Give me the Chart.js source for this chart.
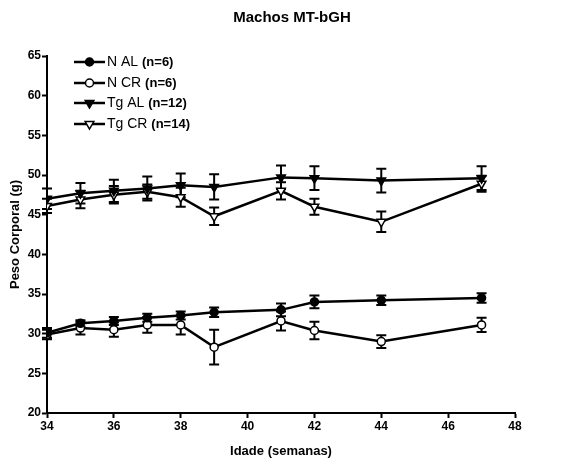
<!DOCTYPE html>
<html>
<head>
<meta charset="utf-8">
<script src="https://cdn.jsdelivr.net/npm/chart.js@4"></script>
<style>
  html, body { margin: 0; padding: 0; background: #fff; }
  #wrap { width: 585px; height: 463px; }
</style>
</head>
<body>
<div id="wrap"><canvas id="chart"></canvas></div>
<script>
// weeks of age
const weeks = [34, 35, 36, 37, 38, 39, 41, 42, 44, 47];

// body weight (g), mean and SEM
const nAL = [30.1, 31.3, 31.6, 32.0, 32.3, 32.7, 33.0, 34.0, 34.2, 34.5];
const nALErr = [0.6, 0.4, 0.5, 0.5, 0.5, 0.6, 0.8, 0.8, 0.6, 0.6];
const nCR = [29.9, 30.7, 30.5, 31.1, 31.1, 28.3, 31.6, 30.4, 29.0, 31.1];
const nCRErr = [0.6, 0.8, 0.9, 1.0, 1.2, 2.2, 1.2, 1.1, 0.8, 0.9];
const tgAL = [47.0, 47.7, 48.0, 48.3, 48.7, 48.5, 49.7, 49.6, 49.3, 49.6];
const tgALErr = [1.3, 1.3, 1.4, 1.5, 1.5, 1.6, 1.5, 1.5, 1.5, 1.5];
const tgCR = [46.1, 46.9, 47.5, 47.9, 47.2, 44.8, 48.0, 46.0, 44.1, 48.9];
const tgCRErr = [0.9, 1.1, 1.1, 0.9, 1.2, 1.1, 1.1, 1.0, 1.3, 1.0];

const seriesNames = ['N AL', 'N CR', 'Tg AL', 'Tg CR'];
const seriesN = ['(n=6)', '(n=6)', '(n=12)', '(n=14)'];

const xTicks = [34, 36, 38, 40, 42, 44, 46, 48];
const yTicks = [20, 25, 30, 35, 40, 45, 50, 55, 60, 65];

const chartTitle = 'Machos MT-bGH';
const FONT = '"Liberation Sans", Arial, sans-serif';

function toPoints(vals) {
  return weeks.map((w, i) => ({ x: w, y: vals[i] }));
}

function makeSet(label, vals, errs, style, fill, rot) {
  return {
    label: label,
    data: toPoints(vals),
    errors: errs,
    borderColor: '#000',
    borderWidth: 2.5,
    pointStyle: style,
    pointRotation: rot,
    pointRadius: style === 'triangle' ? 5 : 4,
    pointBackgroundColor: fill,
    pointBorderColor: '#000',
    pointBorderWidth: 1.5,
    tension: 0
  };
}

const datasets = [
  makeSet('N AL', nAL, nALErr, 'circle', '#000', 0),
  makeSet('N CR', nCR, nCRErr, 'circle', '#fff', 0),
  makeSet('Tg AL', tgAL, tgALErr, 'triangle', '#000', 180),
  makeSet('Tg CR', tgCR, tgCRErr, 'triangle', '#fff', 180)
];

// SEM bars drawn under the lines and markers
const errorBars = {
  id: 'errorBars',
  beforeDatasetsDraw(chart) {
    const ctx = chart.ctx;
    const xs = chart.scales.x, ys = chart.scales.y;
    ctx.save();
    ctx.strokeStyle = '#000';
    ctx.lineWidth = 2;
    chart.data.datasets.forEach(ds => {
      ds.data.forEach((p, i) => {
        const e = ds.errors[i];
        const px = xs.getPixelForValue(p.x);
        const top = ys.getPixelForValue(p.y + e);
        const bot = ys.getPixelForValue(p.y - e);
        ctx.beginPath();
        ctx.moveTo(px, top); ctx.lineTo(px, bot);
        ctx.moveTo(px - 5, top); ctx.lineTo(px + 5, top);
        ctx.moveTo(px - 5, bot); ctx.lineTo(px + 5, bot);
        ctx.stroke();
      });
    });
    ctx.restore();
  }
};

// title centred on the whole page, plus legend with bold group sizes
const decorations = {
  id: 'decorations',
  afterDraw(chart) {
    const ctx = chart.ctx;
    ctx.save();
    ctx.fillStyle = '#000';
    ctx.textAlign = 'center';
    ctx.textBaseline = 'middle';
    ctx.font = 'bold 15px ' + FONT;
    ctx.fillText(chartTitle, 292, 18);

    const x0 = 74, x1 = 105, rowY = [62, 83, 103, 124];
    ctx.textAlign = 'left';
    chart.data.datasets.forEach((ds, i) => {
      const y = rowY[i];
      ctx.strokeStyle = '#000';
      ctx.lineWidth = 2.5;
      ctx.beginPath();
      ctx.moveTo(x0, y); ctx.lineTo(x1, y);
      ctx.stroke();
      ctx.fillStyle = ds.pointBackgroundColor;
      ctx.lineWidth = 1.5;
      Chart.helpers.drawPoint(ctx, {
        pointStyle: ds.pointStyle,
        rotation: ds.pointRotation,
        radius: ds.pointRadius,
        borderWidth: 1.5
      }, (x0 + x1) / 2, y);
      ctx.fillStyle = '#000';
      ctx.font = '14px ' + FONT;
      const name = seriesNames[i] + ' ';
      ctx.fillText(name, x1 + 2, y);
      const w = ctx.measureText(name).width;
      ctx.font = 'bold 13px ' + FONT;
      ctx.fillText(seriesN[i], x1 + 2 + w, y);
    });
    ctx.restore();
  }
};

new Chart(document.getElementById('chart'), {
  type: 'line',
  data: { datasets: datasets },
  options: {
    responsive: true,
    maintainAspectRatio: false,
    animation: false,
    layout: { padding: { left: 0, right: 70, top: 56, bottom: 0 } },
    plugins: {
      legend: { display: false },
      tooltip: { enabled: false },
      title: { display: false }
    },
    scales: {
      x: {
        type: 'linear',
        min: 34,
        max: 48,
        afterFit(scale) { scale.height = 50; },
        afterBuildTicks(scale) { scale.ticks = xTicks.map(v => ({ value: v })); },
        border: { color: '#000', width: 2 },
        grid: { drawOnChartArea: false, drawTicks: true, tickLength: 5, tickColor: '#000', tickWidth: 2 },
        ticks: { color: '#000', padding: 1, font: { family: FONT, size: 12, weight: 'bold' } },
        title: {
          display: true,
          text: 'Idade (semanas)',
          color: '#000',
          padding: { top: 3 },
          font: { family: FONT, size: 13, weight: 'bold' }
        }
      },
      y: {
        min: 20,
        max: 65,
        afterFit(scale) { scale.width = 47; },
        afterBuildTicks(scale) { scale.ticks = yTicks.map(v => ({ value: v })); },
        border: { color: '#000', width: 2 },
        grid: { drawOnChartArea: false, drawTicks: true, tickLength: 5, tickColor: '#000', tickWidth: 2 },
        ticks: { color: '#000', padding: 1, font: { family: FONT, size: 12, weight: 'bold' } },
        title: {
          display: true,
          text: 'Peso Corporal (g)',
          color: '#000',
          padding: { top: 8, bottom: 2 },
          font: { family: FONT, size: 13, weight: 'bold' }
        }
      }
    }
  },
  plugins: [errorBars, decorations]
});
</script>
</body>
</html>
